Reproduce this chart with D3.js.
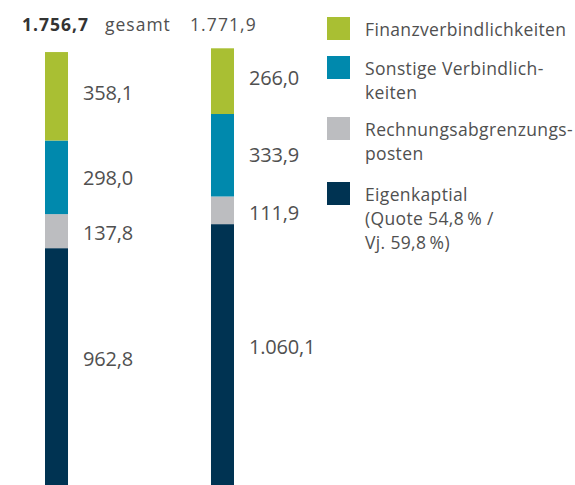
<!DOCTYPE html>
<html><head><meta charset="utf-8">
<script src="https://cdn.jsdelivr.net/npm/d3@7"></script>
<style>
html,body{margin:0;padding:0;background:#fff;}
svg{display:block;font-family:"Open Sans",sans-serif;}
</style></head>
<body>
<svg id="chart" width="575" height="485"></svg>
<script>
const years = ["cur", "prev"];
const totals = ["1.756,7", "1.771,9"];
const totalNote = "gesamt";
const seriesNames = ["Eigenkaptial", "Rechnungsabgrenzungsposten", "Sonstige Verbindlichkeiten", "Finanzverbindlichkeiten"];
const eigenkapital = [962.8, 1060.1];
const rap = [137.8, 111.9];
const sonstige = [298.0, 333.9];
const finanz = [358.1, 266.0];
const colors = ["#003352", "#bcbdc0", "#0089ad", "#a9bf33"];
const legendLines = [
  ["Finanzverbindlichkeiten"],
  ["Sonstige Verbindlich-", "keiten"],
  ["Rechnungsabgrenzungs-", "posten"],
  ["Eigenkaptial", "(Quote 54,8\u2009% /", "Vj. 59,8\u2009%)"]
];
const legendColors = ["#a9bf33", "#0089ad", "#bcbdc0", "#003352"];

const fmt = v => {
  const s = v.toFixed(1).split(".");
  const int = s[0].replace(/\B(?=(\d{3})+(?!\d))/g, ".");
  return int + "," + s[1];
};

const svg = d3.select("#chart");
const textColor = "#505050";
const fs = 17.5, ls = "0.35px";

const rows = years.map((y, i) => ({year: y, s0: eigenkapital[i], s1: rap[i], s2: sonstige[i], s3: finanz[i]}));
const stack = d3.stack().keys(["s0", "s1", "s2", "s3"]);
const stacked = stack(rows);

const x = d3.scaleBand().domain(years).range([45, 234]).paddingInner(0.8614).paddingOuter(0);
const ymax = d3.max(rows, r => r.s0 + r.s1 + r.s2 + r.s3);
const y = d3.scaleLinear().domain([0, ymax]).range([486, 48.3]);

const g = svg.append("g");
stacked.forEach((layer, li) => {
  g.selectAll(null).data(layer).enter().append("rect")
    .attr("x", d => x(d.data.year))
    .attr("width", x.bandwidth())
    .attr("y", d => y(d[1]))
    .attr("height", d => y(d[0]) - y(d[1]))
    .attr("fill", colors[li]);
  g.selectAll(null).data(layer).enter().append("text")
    .attr("x", d => x(d.data.year) + x.bandwidth() + 15)
    .attr("y", d => {
      const top = y(d[1]), bot = Math.min(y(d[0]), 485);
      return (top + bot) / 2 + (li === 0 ? -8 : 0) + (li === 1 ? 2 : 0) + (li === 3 ? -3 : 0);
    })
    .attr("dy", "0.36em")
    .attr("font-size", 20).attr("letter-spacing", "-0.2px")
    .attr("fill", textColor)
    .text(d => fmt(d[1] - d[0]));
});

// header totals
svg.append("text").attr("x", 22).attr("y", 31).attr("font-size", fs).attr("letter-spacing", "1px")
  .attr("font-weight", "bold").attr("fill", "#333").text(totals[0]);
svg.append("text").attr("x", 105).attr("y", 31).attr("font-size", fs).attr("letter-spacing", "1px")
  .attr("fill", textColor).text(totalNote);
svg.append("text").attr("x", x(years[1]) - 21).attr("y", 31).attr("font-size", fs).attr("letter-spacing", "1.1px")
  .attr("fill", textColor).text(totals[1]);

// legend
const legTops = [17, 56, 117, 182];
legendLines.forEach((lines, i) => {
  svg.append("rect").attr("x", 327).attr("y", legTops[i]).attr("width", 23).attr("height", 23)
    .attr("fill", legendColors[i]);
  lines.forEach((ln, j) => {
    svg.append("text").attr("x", 365).attr("y", legTops[i] + 19 + j * 24)
      .attr("font-size", fs).attr("letter-spacing", ls).attr("fill", textColor).text(ln);
  });
});
</script>
</body></html>
